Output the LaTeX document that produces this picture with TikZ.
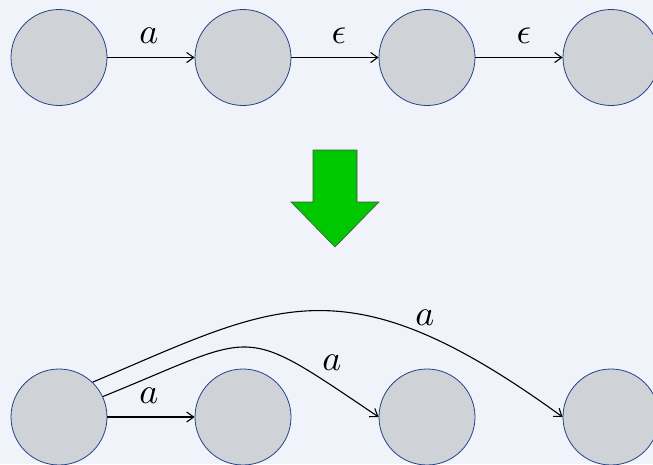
\documentclass[tikz,border=0pt]{standalone}
\usepackage{graphicx}
\usetikzlibrary{arrows.meta}
\definecolor{bgc}{RGB}{240,244,250}
\definecolor{statefill}{RGB}{207,211,215}
\definecolor{statedraw}{RGB}{35,65,135}
\definecolor{arrowgreen}{RGB}{0,200,0}
\newcommand{\biglbl}[1]{\scalebox{3.6}{$#1$}}
\begin{document}
\begin{tikzpicture}[x=1pt,y=-1pt,
  state/.style={circle,minimum size=96pt,inner sep=0pt,fill=statefill,draw=statedraw,line width=0.8pt},
  trans/.style={line width=1.1pt,-{Straight Barb[length=7pt,width=10pt,line width=1.1pt]}},
  lbl/.style={inner sep=0pt}]
\clip (0,0) rectangle (653,464);
\fill[bgc] (0,0) rectangle (653,464);
% top row
\node[state] (t1) at (59,57.5) {};
\node[state] (t2) at (243,57.5) {};
\node[state] (t3) at (427,57.5) {};
\node[state] (t4) at (611,57.5) {};
\draw[trans] (t1) -- (t2);
\draw[trans] (t2) -- (t3);
\draw[trans] (t3) -- (t4);
\node[lbl] (l1) at (149,36) {\biglbl{a}};
\node[lbl] (l2) at (339,36) {\biglbl{\epsilon}};
\node[lbl] (l3) at (524,36) {\biglbl{\epsilon}};
% green arrow
\draw[fill=arrowgreen,draw=black!70,line width=0.6pt]
  (313,150) -- (357,150) -- (357,202) -- (379,202) -- (335,247) -- (291,202) -- (313,202) -- cycle;
% bottom row
\node[state] (b1) at (59,417) {};
\node[state] (b2) at (243,417) {};
\node[state] (b3) at (427,417) {};
\node[state] (b4) at (611,417) {};
\draw[trans] (b1) -- (b2);
\draw[trans] (b1.25) .. controls +(158,-64) and +(-141,-95) .. (b3.west);
\draw[trans] (b1.46) .. controls +(184,-78) and +(-219,-159) .. (b4.west);
\node[lbl] (l4) at (149,396) {\biglbl{a}};
\node[lbl] (l5) at (332,363) {\biglbl{a}};
\node[lbl] (l6) at (425,318) {\biglbl{a}};
\end{tikzpicture}
\end{document}
